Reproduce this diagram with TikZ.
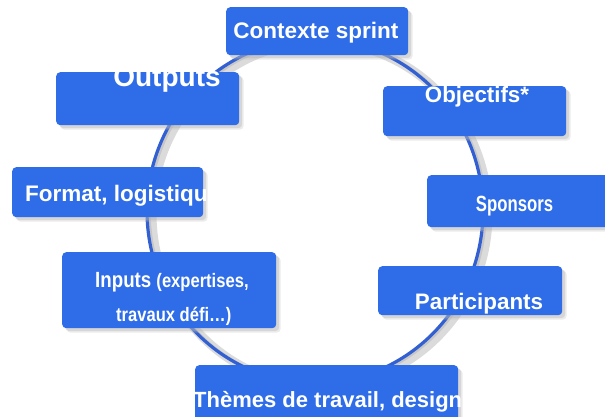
\documentclass[tikz,border=0pt]{standalone}
\usepackage{fontspec}
\setmainfont{Liberation Sans}
\usetikzlibrary{shadows}
\definecolor{boxblue}{RGB}{46,108,232}
\definecolor{ringblue}{RGB}{50,96,210}
\tikzset{
  card/.style={fill=boxblue, rounded corners=4pt, inner sep=0pt, anchor=north west,
    drop shadow={shadow xshift=3pt,shadow yshift=-3pt,fill=black!35,opacity=0.35},
    drop shadow={shadow xshift=4.5pt,shadow yshift=-4.5pt,fill=black!25,opacity=0.3}},
  lbl/.style={text=white, inner sep=0pt, font=\bfseries},
}
\newcommand{\fs}[1]{\fontsize{#1}{#1}\selectfont}
\begin{document}
\begin{tikzpicture}[x=1pt,y=-1pt]
\useasboundingbox (0,0) rectangle (605,417);
\clip (0,0) rectangle (605,417);
% ring
\coordinate (c) at (315,211);
\coordinate (cs) at (320,214);
\coordinate (cs2) at (317,212);
\draw[black!14, line width=9pt] (cs) ellipse [x radius=168pt, y radius=172pt];
\draw[black!22, line width=3.5pt] (cs2) ellipse [x radius=168pt, y radius=172pt];
\draw[ringblue, line width=3.2pt] (c) ellipse [x radius=168pt, y radius=172pt];
% boxes
\node[card, minimum width=182pt, minimum height=48pt] (ctx) at (226,7) {};
\node[card, minimum width=183pt, minimum height=53pt] (out) at (56,72) {};
\node[card, minimum width=183pt, minimum height=50pt] (obj) at (383,86) {};
\node[card, minimum width=191pt, minimum height=50pt] (fmt) at (12,167) {};
\node[card, minimum width=185pt, minimum height=52pt] (spo) at (427,175) {};
\node[card, minimum width=214pt, minimum height=76pt] (inp) at (62,252) {};
\node[card, minimum width=184pt, minimum height=49pt] (par) at (378,266) {};
\node[card, minimum width=263pt, minimum height=60pt] (the) at (195,365) {};
% labels
\node[lbl, anchor=base] (tctx) at (316,39) {\fs{22.5}Contexte sprint};
\node[lbl, anchor=base] (tout) at (167,87) {\fs{28}Outputs};
\node[lbl, anchor=base] (tobj) at (477,103) {\fs{22.3}Objectifs*};
\node[lbl, anchor=base west] (tfmt) at (25,201) {\fs{22.5}Format, logistique};
\node[lbl, anchor=base] (tspo) at (514.5,211) {\scalebox{0.76}[1]{\fs{22}Sponsors}};
\node[lbl, anchor=base west] (tinp1) at (95,287) {\scalebox{0.85}[1]{\fs{22}Inputs \fs{19.5}(expertises,}};
\node[lbl, anchor=base west] (tinp2) at (116,321) {\scalebox{0.85}[1]{\fs{19.5}travaux défi…)}};
\node[lbl, anchor=base] (tpar) at (479,309) {\fs{22.4}Participants};
\node[lbl, anchor=base west] (tthe) at (193,407) {\fs{22}Thèmes de travail, design};
\end{tikzpicture}
\end{document}
